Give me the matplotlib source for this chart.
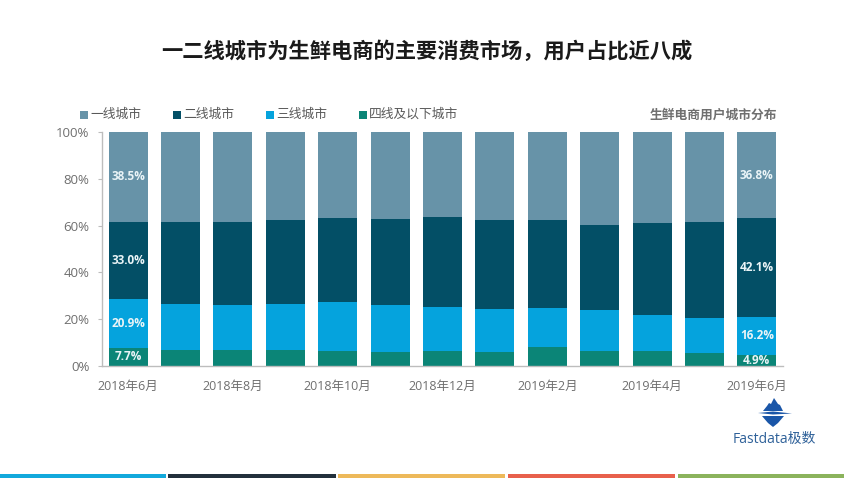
import matplotlib
matplotlib.use("Agg")
import matplotlib.pyplot as plt
from matplotlib.patches import Rectangle, Polygon

plt.rcParams['font.family'] = ['Open Sans', 'Noto Sans CJK SC', 'DejaVu Sans']

W, H = 845, 478

months = ['2018年6月', '2018年7月', '2018年8月', '2018年9月', '2018年10月', '2018年11月', '2018年12月',
          '2019年1月', '2019年2月', '2019年3月', '2019年4月', '2019年5月', '2019年6月']
tick_every = 2
series_names = ['一线城市', '二线城市', '三线城市', '四线及以下城市']
tier4 = [7.7, 6.8, 6.7, 6.9, 6.6, 6.1, 6.4, 6.1, 8.0, 6.5, 6.3, 5.7, 4.9]
tier3 = [20.9, 19.7, 19.2, 19.7, 20.7, 20.0, 19.0, 18.1, 16.6, 17.6, 15.6, 15.0, 16.2]
tier2 = [33.0, 35.1, 35.7, 35.9, 36.0, 36.7, 38.3, 38.3, 37.6, 36.2, 39.2, 41.0, 42.1]
tier1 = [38.4, 38.4, 38.4, 37.5, 36.7, 37.2, 36.3, 37.5, 37.8, 39.7, 38.9, 38.3, 36.8]
label_idx = [0, 12]
colors = {'t1': '#6793A8', 't2': '#034F66', 't3': '#05A3DD', 't4': '#0B8577'}

fig = plt.figure(figsize=(W / 100, H / 100), dpi=100, facecolor='white')
ax = fig.add_axes([102 / W, 1 - 366 / H, (783 - 102) / W, (366 - 132) / H])

x = list(range(len(months)))
stack = [(tier4, colors['t4']), (tier3, colors['t3']), (tier2, colors['t2']), (tier1, colors['t1'])]
bottom = [0.0] * len(months)
for vals, c in stack:
    ax.bar(x, vals, width=0.745, bottom=bottom, color=c, linewidth=0)
    for i in label_idx:
        ax.text(i, bottom[i] + vals[i] / 2, f'{vals[i]:.1f}%' if vals is not tier1 or i else '38.5%',
                ha='center', va='center', color='#EAF4F7', fontsize=8.5, fontweight='bold')
    bottom = [b + v for b, v in zip(bottom, vals)]

ax.set_xlim(-0.5, len(months) - 0.5)
ax.set_ylim(0, 100)
ax.set_yticks(range(0, 101, 20))
ax.set_yticklabels([f'{v}%' for v in range(0, 101, 20)], fontsize=9.5, color='#6F6F6F')
ax.set_xticks(x[::tick_every])
ax.set_xticklabels(months[::tick_every], fontsize=9, color='#6F6F6F')
for s in ('top', 'right'):
    ax.spines[s].set_visible(False)
for s in ('left', 'bottom'):
    ax.spines[s].set_color('#BDBDBD')
    ax.spines[s].set_linewidth(1)
ax.tick_params(axis='y', length=3, color='#BDBDBD', pad=6)
ax.tick_params(axis='x', length=0, pad=10)

def fx(px): return px / W
def fy(py): return 1 - py / H

fig.text(fx(427), fy(52), '一二线城市为生鲜电商的主要消费市场，用户占比近八成',
         ha='center', va='center', fontsize=15.3, fontweight='bold', color='#1A1A1A')
fig.text(fx(777), fy(115), '生鲜电商用户城市分布', ha='right', va='center',
         fontsize=9.2, fontweight='bold', color='#6F6F6F')

legend_x = [(80, colors['t1']), (173, colors['t2']), (266, colors['t3']), (359, colors['t4'])]
for (lx, c), name in zip(legend_x, series_names):
    fig.add_artist(Rectangle((fx(lx), fy(119)), 8 / W, 8 / H, transform=fig.transFigure, color=c, lw=0))
    fig.text(fx(lx + 10), fy(114.5), name, ha='left', va='center', fontsize=9.2, color='#595959')

# footer stripes
stripes = [(0, 166, '#12A9DC'), (168, 336, '#22303C'), (338, 505, '#EDB95A'),
           (508, 675, '#E8604C'), (678, 845, '#8BB35C')]
for a, b, c in stripes:
    fig.add_artist(Rectangle((fx(a), 0), (b - a) / W, 4.5 / H, transform=fig.transFigure, color=c, lw=0))

# logo
logo = '#1A56A8'
top = [(763, 411), (767, 406), (769, 403), (771, 404), (774, 398), (776, 401), (778, 404),
       (780, 405), (783, 411)]
bot = [(762, 416), (784, 416), (778, 423), (773, 427), (768, 423)]
fig.add_artist(Polygon([(fx(a), fy(b)) for a, b in top], closed=True, transform=fig.transFigure, color=logo, lw=0))
fig.add_artist(Polygon([(fx(a), fy(b)) for a, b in bot], closed=True, transform=fig.transFigure, color=logo, lw=0))
fig.add_artist(Polygon([(fx(a), fy(b)) for a, b in [(758, 413), (773, 411.5), (792, 413.5), (773, 414.5)]],
                       closed=True, transform=fig.transFigure, color=logo, lw=0))
fig.text(fx(774), fy(439), 'Fastdata极数', ha='center', va='center', fontsize=10, color='#2F6199')

fig.savefig('out.png', dpi=100, facecolor='white')
